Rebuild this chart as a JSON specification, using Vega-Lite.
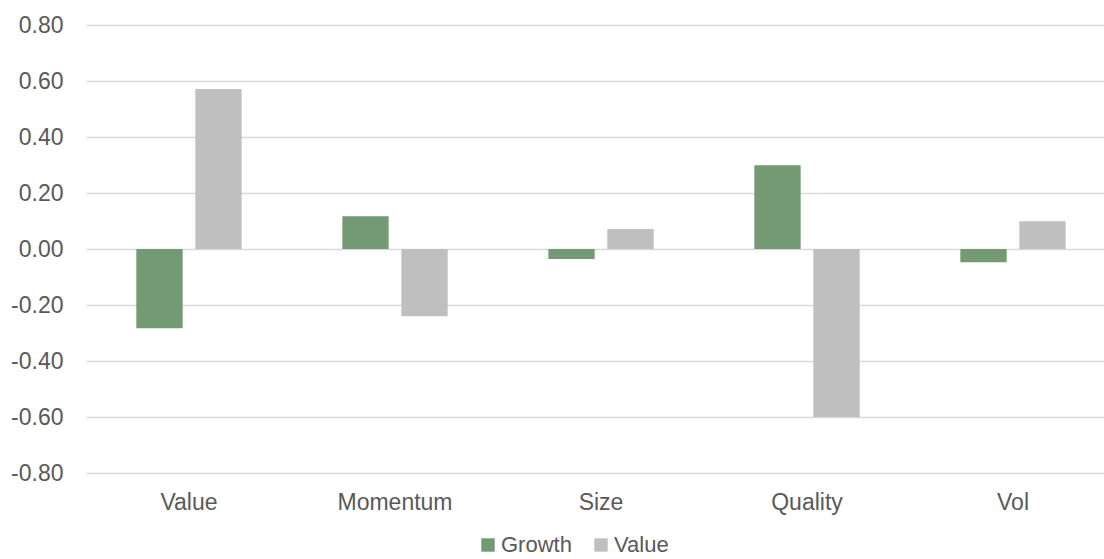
{
  "$schema": "https://vega.github.io/schema/vega-lite/v6.json",
  "autosize": "none",
  "width": 1018,
  "height": 448,
  "padding": {"left": 86, "top": 25, "right": 0, "bottom": 86},
  "background": "white",
  "config": {
    "view": {"stroke": null},
    "font": "Liberation Sans",
    "axis": {"labelFont": "Liberation Sans", "labelColor": "#595959", "labelFontSize": 23},
    "legend": {"labelFont": "Liberation Sans", "labelColor": "#595959", "labelFontSize": 22}
  },
  "data": {
    "values": [
      {"factor": "Value", "style": "Growth", "score": -0.283},
      {"factor": "Value", "style": "Value", "score": 0.571},
      {"factor": "Momentum", "style": "Growth", "score": 0.117},
      {"factor": "Momentum", "style": "Value", "score": -0.240},
      {"factor": "Size", "style": "Growth", "score": -0.036},
      {"factor": "Size", "style": "Value", "score": 0.071},
      {"factor": "Quality", "style": "Growth", "score": 0.299},
      {"factor": "Quality", "style": "Value", "score": -0.600},
      {"factor": "Vol", "style": "Growth", "score": -0.047},
      {"factor": "Vol", "style": "Value", "score": 0.099}
    ]
  },
  "mark": {"type": "bar"},
  "encoding": {
    "x": {
      "field": "factor",
      "type": "nominal",
      "sort": ["Value", "Momentum", "Size", "Quality", "Vol"],
      "scale": {"paddingInner": 0, "paddingOuter": 0, "range": [0, 1030]},
      "axis": {
        "title": null,
        "domain": false,
        "ticks": false,
        "labelAngle": 0,
        "labelPadding": 18
      }
    },
    "xOffset": {
      "field": "style",
      "type": "nominal",
      "sort": ["Growth", "Value"],
      "scale": {"paddingInner": 0.215, "paddingOuter": 0.853}
    },
    "y": {
      "field": "score",
      "type": "quantitative",
      "scale": {"domain": [-0.8, 0.8], "nice": false, "zero": false},
      "axis": {
        "title": null,
        "domain": false,
        "ticks": false,
        "values": [-0.8, -0.6, -0.4, -0.2, 0, 0.2, 0.4, 0.6, 0.8],
        "labelExpr": "(datum.value < -0.001 ? '-' : '') + format(abs(datum.value), '.2f')",
        "labelPadding": 23,
        "gridColor": "#D9D9D9",
        "gridWidth": 1.3
      }
    },
    "color": {
      "field": "style",
      "type": "nominal",
      "scale": {"domain": ["Growth", "Value"], "range": ["#739A73", "#BFBFBF"]},
      "legend": {
        "title": null,
        "orient": "none",
        "direction": "horizontal",
        "legendX": 391,
        "legendY": 509,
        "symbolType": "square",
        "symbolSize": 180,
        "symbolStrokeWidth": 0,
        "labelOffset": 2,
        "columnPadding": 18,
        "padding": 0
      }
    }
  }
}
